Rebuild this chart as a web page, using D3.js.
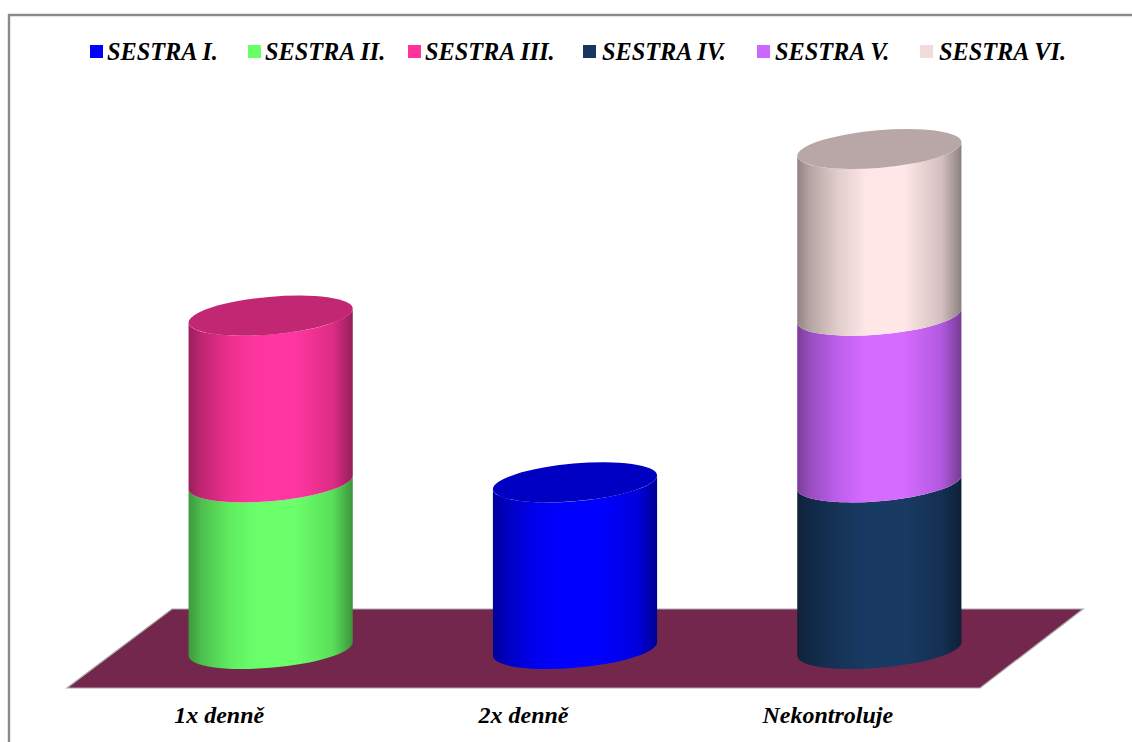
<!DOCTYPE html>
<html>
<head>
<meta charset="utf-8">
<title>Kontrola</title>
<script src="https://cdn.jsdelivr.net/npm/d3@7"></script>
<style>
  html, body { margin: 0; padding: 0; background: #fff; overflow: hidden; }
  svg { display: block; }
  text { font-family: "Liberation Serif", "Times New Roman", serif; font-weight: bold; font-style: italic; fill: #000; }
  .domain { display: none; }
  .tick line { display: none; }
</style>
</head>
<body>
<svg id="chart" width="1132" height="742"></svg>
<script>
// Stacked cylinders on a tilted floor, one stack per category

const categories = ['1x denně', '2x denně', 'Nekontroluje'];
const seriesNames = ['SESTRA I.', 'SESTRA II.', 'SESTRA III.', 'SESTRA IV.', 'SESTRA V.', 'SESTRA VI.'];
const seriesColors = ['#0000ff', '#66ff66', '#ff3399', '#17375e', '#cc66ff', '#f2dcdb'];

// one row per series, one value per category
const sestra1 = [0, 1, 0];
const sestra2 = [1, 0, 0];
const sestra3 = [1, 0, 0];
const sestra4 = [0, 0, 1];
const sestra5 = [0, 0, 1];
const sestra6 = [0, 0, 1];
const seriesValues = [sestra1, sestra2, sestra3, sestra4, sestra5, sestra6];
const valueTicks = [0, 1, 2, 3];

// --- Layout ---

const floor = { left: 67, right: 980, front: 688, back: 609, depth: 103 };
const cyl = { rx: 82.4, ry: 18.8, tilt: -5 };

const x = d3.scaleBand().domain(categories).range([floor.left, floor.right]);
const y = d3.scaleLinear().domain([0, d3.max(valueTicks)]).range([649, 149]);

const svg = d3.select('#chart');

// frame only has top and left edges inside the window
svg.append('path')
  .attr('d', 'M9,742V15H1132')
  .attr('fill', 'none')
  .attr('stroke', '#8a8a8a')
  .attr('stroke-width', 2.4);

// --- Shading ---

const shade = [[0, 0.6], [0.08, 0.75], [0.25, 0.93], [0.42, 1.05], [0.65, 1.05], [0.88, 0.87], [1, 0.58]];
const defs = svg.append('defs');

function scaleColor(hex, k) {
  const c = d3.rgb(hex);
  return d3.rgb(Math.min(255, c.r * k), Math.min(255, c.g * k), Math.min(255, c.b * k)).formatHex();
}

seriesColors.forEach((color, i) => {
  const g = defs.append('linearGradient').attr('id', `side-${i}`);
  shade.forEach(([offset, k]) => {
    g.append('stop').attr('offset', offset).attr('stop-color', scaleColor(color, k));
  });
});

// --- Floor ---

const floorShape = d3.line()([
  [floor.left, floor.front],
  [floor.right, floor.front],
  [floor.right + floor.depth, floor.back],
  [floor.left + floor.depth + 2, floor.back]
]) + 'Z';

svg.append('path')
  .attr('d', floorShape)
  .attr('fill', '#74274c')
  .attr('stroke', '#a9a9a9')
  .attr('stroke-width', 1.2);

// --- Cylinders ---

// where the tilted ellipse has its left and right extremes
const phi = cyl.tilt * Math.PI / 180;
const halfW = Math.sqrt((cyl.rx * Math.cos(phi)) ** 2 + (cyl.ry * Math.sin(phi)) ** 2);
const sideDy = (cyl.rx ** 2 - cyl.ry ** 2) * Math.sin(phi) * Math.cos(phi) / halfW;

function sidePath(cx, y0, y1) {
  const l = cx - halfW, r = cx + halfW;
  return `M${l},${y1 - sideDy}` +
    `L${l},${y0 - sideDy}` +
    `A${cyl.rx},${cyl.ry} ${cyl.tilt} 0 0 ${r},${y0 + sideDy}` +
    `L${r},${y1 + sideDy}` +
    `A${cyl.rx},${cyl.ry} ${cyl.tilt} 0 1 ${l},${y1 - sideDy}Z`;
}

categories.forEach((cat, c) => {
  const cx = x(cat) + x.bandwidth() / 2 + floor.depth / 2;
  let total = 0;
  seriesValues.forEach((values, s) => {
    const v = values[c];
    if (!v) return;
    const y0 = y(total);
    const y1 = y(total + v);
    total += v;
    svg.append('path')
      .attr('d', sidePath(cx, y0, y1))
      .attr('fill', `url(#side-${s})`);
    // only the top segment of a stack shows its cap
    if (total === d3.sum(seriesValues, row => row[c])) {
      svg.append('ellipse')
        .attr('rx', cyl.rx)
        .attr('ry', cyl.ry)
        .attr('transform', `translate(${cx},${y1}) rotate(${cyl.tilt})`)
        .attr('fill', scaleColor(seriesColors[s], 0.76));
    }
  });
});

// --- Category labels ---

svg.append('g')
  .attr('transform', `translate(0,${floor.front})`)
  .call(d3.axisBottom(x).tickSize(0).tickPadding(18))
  .call(g => g.selectAll('text')
    .attr('font-size', 24)
    .style('font-family', '"Liberation Serif", serif'));

// --- Legend ---

const legendX = [90, 248, 408, 583, 757, 920];
const legendTextX = [17, 17, 17, 19, 18, 19];
const legend = svg.append('g').selectAll('g').data(seriesNames).join('g')
  .attr('transform', (d, i) => `translate(${legendX[i]},45)`);

legend.append('rect')
  .attr('width', 13)
  .attr('height', 13)
  .attr('fill', (d, i) => seriesColors[i]);

legend.append('text')
  .attr('x', (d, i) => legendTextX[i])
  .attr('y', 14.5)
  .attr('font-size', 24.3)
  .text(d => d);
</script>
</body>
</html>
